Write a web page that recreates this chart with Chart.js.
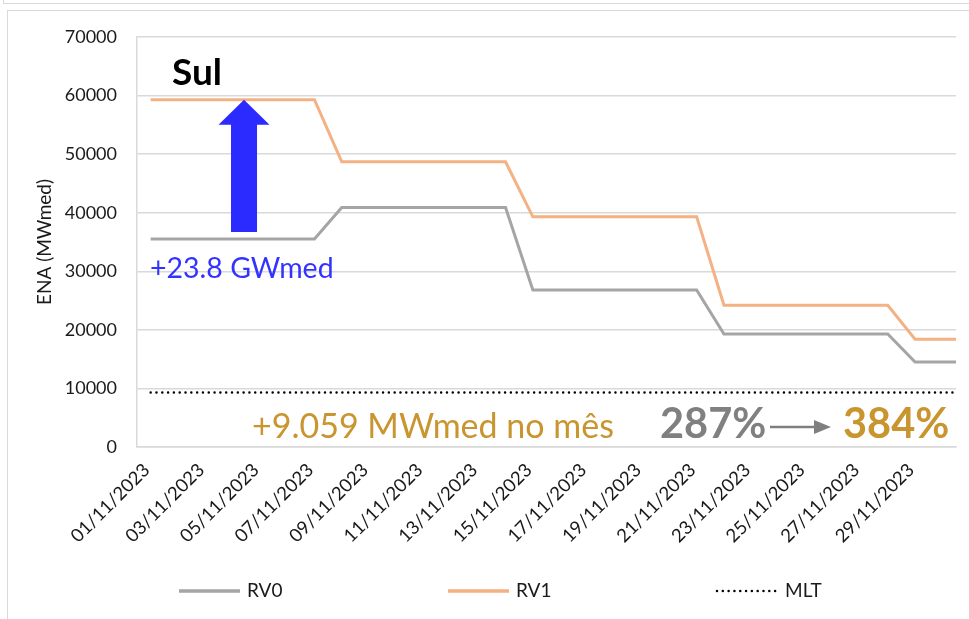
<!DOCTYPE html>
<html>
<head>
<meta charset="utf-8">
<title>Sul - ENA RV0 x RV1</title>
<script src="https://cdn.jsdelivr.net/npm/chart.js@4"></script>
<style>
  html, body { margin: 0; padding: 0; background: #fff; }
  #wrap { position: relative; width: 969px; height: 619px; overflow: hidden; }
  .frame-top { position: absolute; left: 3px; top: -20px; width: 1000px; height: 22px; border: 1.5px solid #d9d9d9; }
  .frame-main { position: absolute; left: 7px; top: 10px; width: 1000px; height: 700px; border: 1.5px solid #d9d9d9; }
  canvas { position: absolute; left: 0; top: 0; }
</style>
</head>
<body>
<div id="wrap">
  <div class="frame-top"></div>
  <div class="frame-main"></div>
  <canvas id="enaChart" width="969" height="619"></canvas>
</div>
<script>
// dates of the month (last one only feeds the line up to the right edge)
const dates = [
  "01/11/2023", "02/11/2023", "03/11/2023", "04/11/2023", "05/11/2023", "06/11/2023",
  "07/11/2023", "08/11/2023", "09/11/2023", "10/11/2023", "11/11/2023", "12/11/2023",
  "13/11/2023", "14/11/2023", "15/11/2023", "16/11/2023", "17/11/2023", "18/11/2023",
  "19/11/2023", "20/11/2023", "21/11/2023", "22/11/2023", "23/11/2023", "24/11/2023",
  "25/11/2023", "26/11/2023", "27/11/2023", "28/11/2023", "29/11/2023", "30/11/2023",
  "01/12/2023"
];
const days = [1, 2, 3, 4, 5, 6, 7, 8, 9, 10, 11, 12, 13, 14, 15, 16, 17, 18, 19, 20,
  21, 22, 23, 24, 25, 26, 27, 28, 29, 30, 31];

// ENA (MWmed)
const rv0 = [35500, 35500, 35500, 35500, 35500, 35500, 35500,
  40900, 40900, 40900, 40900, 40900, 40900, 40900,
  26800, 26800, 26800, 26800, 26800, 26800, 26800,
  19300, 19300, 19300, 19300, 19300, 19300, 19300,
  14500, 14500, 14500];
const rv1 = [59300, 59300, 59300, 59300, 59300, 59300, 59300,
  48700, 48700, 48700, 48700, 48700, 48700, 48700,
  39300, 39300, 39300, 39300, 39300, 39300, 39300,
  24200, 24200, 24200, 24200, 24200, 24200, 24200,
  18400, 18400, 18400];
const mlt = [9300, 9300, 9300, 9300, 9300, 9300, 9300, 9300, 9300, 9300,
  9300, 9300, 9300, 9300, 9300, 9300, 9300, 9300, 9300, 9300,
  9300, 9300, 9300, 9300, 9300, 9300, 9300, 9300, 9300, 9300, 9300];

const xTickDays = [1, 3, 5, 7, 9, 11, 13, 15, 17, 19, 21, 23, 25, 27, 29];
const yMax = 70000;
const yStep = 10000;

const FONT = "Lato";
const TXT = "#1a1a1a";

function points(values) {
  return values.map((v, i) => ({x: days[i], y: v}));
}

/* legend drawn by hand, the built-in one can't spread items that far */
const legendLines = {
  id: "legendLines",
  afterDraw(chart) {
    const ctx = chart.ctx;
    const left = 179, pitch = 269, y = 591, len = 61;
    ctx.save();
    chart.data.datasets.forEach((ds, i) => {
      const x0 = left + i * pitch;
      ctx.beginPath();
      ctx.strokeStyle = ds.borderColor;
      ctx.lineWidth = ds.legendWidth;
      ctx.lineCap = ds.borderCapStyle || "butt";
      ctx.setLineDash(ds.borderDash || []);
      ctx.moveTo(x0, y);
      ctx.lineTo(x0 + len, y);
      ctx.stroke();
      ctx.setLineDash([]);
      ctx.fillStyle = TXT;
      ctx.font = "19px " + FONT;
      ctx.textBaseline = "middle";
      ctx.fillText(ds.label, x0 + len + 7, y);
    });
    ctx.restore();
  }
};

/* texts and arrows drawn over the plot */
const notes = {
  id: "notes",
  afterDatasetsDraw(chart) {
    const {ctx, chartArea: a, scales: {x, y}} = chart;
    ctx.save();
    ctx.textBaseline = "alphabetic";
    ctx.textAlign = "left";

    ctx.fillStyle = "#000";
    ctx.font = "bold 37px " + FONT;
    ctx.fillText("Sul", a.left + 35, a.top + 48);

    // blue arrow from RV0 up to RV1
    const ax = x.getPixelForValue(4.42);
    const tip = y.getPixelForValue(rv1[3]);
    const base = y.getPixelForValue(rv0[3]) - 7;
    ctx.fillStyle = "#2b2bff";
    ctx.beginPath();
    ctx.moveTo(ax, tip);
    ctx.lineTo(ax + 25.5, tip + 25);
    ctx.lineTo(ax + 13, tip + 25);
    ctx.lineTo(ax + 13, base);
    ctx.lineTo(ax - 13, base);
    ctx.lineTo(ax - 13, tip + 25);
    ctx.lineTo(ax - 25.5, tip + 25);
    ctx.closePath();
    ctx.fill();

    ctx.fillStyle = "#3333ff";
    ctx.font = "28.5px " + FONT;
    ctx.fillText("+23.8 GWmed", a.left + 13, a.top + 241);

    ctx.fillStyle = "#c8952f";
    ctx.font = "34px " + FONT;
    ctx.fillText("+9.059 MWmed no mês", a.left + 115, a.bottom - 9);

    ctx.fillStyle = "#808080";
    ctx.font = "bold 41.5px " + FONT;
    ctx.fillText("287%", a.left + 523, a.bottom - 9);

    // small gray arrow
    const ay = a.bottom - 20;
    ctx.strokeStyle = "#7f7f7f";
    ctx.lineWidth = 2.5;
    ctx.beginPath();
    ctx.moveTo(a.left + 633, ay);
    ctx.lineTo(a.left + 680, ay);
    ctx.stroke();
    ctx.fillStyle = "#7f7f7f";
    ctx.beginPath();
    ctx.moveTo(a.left + 694, ay);
    ctx.lineTo(a.left + 677, ay - 7);
    ctx.lineTo(a.left + 677, ay + 7);
    ctx.closePath();
    ctx.fill();

    ctx.fillStyle = "#c8952f";
    ctx.font = "bold 41.5px " + FONT;
    ctx.fillText("384%", a.left + 706, a.bottom - 9);
    ctx.restore();
  }
};

new Chart(document.getElementById("enaChart"), {
  type: "line",
  data: {
    datasets: [
      {
        label: "RV0",
        data: points(rv0),
        borderColor: "#a5a5a5",
        borderWidth: 3,
        legendWidth: 3.5,
        pointRadius: 0,
        tension: 0
      },
      {
        label: "RV1",
        data: points(rv1),
        borderColor: "#f4b183",
        borderWidth: 3,
        legendWidth: 3.5,
        pointRadius: 0,
        tension: 0
      },
      {
        label: "MLT",
        data: points(mlt),
        borderColor: "#000000",
        borderWidth: 2.5,
        legendWidth: 2.5,
        borderDash: [0.01, 5.8],
        borderCapStyle: "round",
        pointRadius: 0,
        tension: 0
      }
    ]
  },
  options: {
    responsive: false,
    animation: false,
    layout: { padding: { left: 0, top: 37, right: 13, bottom: 52 } },
    plugins: {
      legend: { display: false },
      tooltip: { enabled: false }
    },
    scales: {
      x: {
        type: "linear",
        min: 0.5,
        max: 30.5,
        afterBuildTicks: (s) => { s.ticks = xTickDays.map(v => ({value: v})); },
        afterFit: (s) => { s.height = 120; },
        ticks: {
          autoSkip: false,
          maxRotation: 45,
          minRotation: 45,
          padding: 12,
          labelOffset: -4,
          color: TXT,
          font: { family: FONT, size: 18.5 },
          callback: (v) => dates[days.indexOf(v)]
        },
        grid: { display: false, drawTicks: false },
        border: { display: true, color: "#d9d9d9", width: 1.5 }
      },
      y: {
        min: 0,
        max: yMax,
        afterFit: (s) => { s.width = 137; },
        ticks: {
          stepSize: yStep,
          padding: 20,
          color: TXT,
          font: { family: FONT, size: 18 },
          callback: (v) => String(v)
        },
        grid: { color: "#d9d9d9", lineWidth: 1.5, drawTicks: false },
        border: { display: true, color: "#d9d9d9", width: 1.5 },
        title: {
          display: true,
          text: "ENA (MWmed)",
          color: TXT,
          font: { family: FONT, size: 19 },
          padding: { top: 33, bottom: 0 }
        }
      }
    }
  },
  plugins: [notes, legendLines]
});
</script>
</body>
</html>
